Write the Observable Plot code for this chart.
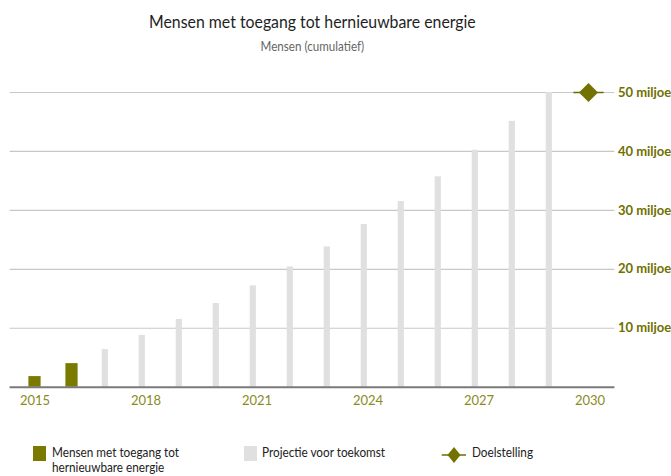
<!DOCTYPE html>
<html><head><meta charset="utf-8">
<script src="https://cdn.jsdelivr.net/npm/d3@7"></script>
<script src="https://cdn.jsdelivr.net/npm/@observablehq/plot@0.6"></script>
<style>
html,body{margin:0;padding:0;}
body{width:671px;height:476px;overflow:hidden;position:relative;background:#fff;font-family:Lato,"Liberation Sans",sans-serif;}
#title{position:absolute;left:9.6px;width:604.8px;top:11.5px;text-align:center;font-size:18px;line-height:18px;color:#1e1e1e;white-space:nowrap;transform:scaleX(0.88);transform-origin:50% 50%;}
#subtitle{position:absolute;left:9.6px;width:604.8px;top:40.6px;text-align:center;font-size:12.5px;line-height:12.5px;color:#666;white-space:nowrap;transform:scaleX(0.93);transform-origin:50% 50%;}
#chart{position:absolute;left:0;top:60px;}
.leg{position:absolute;font-size:12.5px;line-height:15.3px;color:#222;white-space:nowrap;transform:scaleX(0.94);transform-origin:0 50%;}
.sw{position:absolute;width:13px;height:15px;}
</style>
</head><body>
<div id="title">Mensen met toegang tot hernieuwbare energie</div>
<div id="subtitle">Mensen (cumulatief)</div>
<div id="chart"></div>
<div class="sw" style="left:33.3px;top:446px;background:#7a7a00"></div>
<div class="leg" style="left:51.7px;top:445.2px">Mensen met toegang tot<br>hernieuwbare energie</div>
<div class="sw" style="left:244px;top:446px;background:#e0e0e0"></div>
<div class="leg" style="left:262px;top:445.2px">Projectie voor toekomst</div>
<svg style="position:absolute;left:440px;top:444px" width="30" height="22">
  <line x1="1.7" x2="26" y1="11" y2="11" stroke="#6b6b00" stroke-width="1.5"></line>
  <path d="M14,3 L20.5,11 L14,19 L7.5,11 Z" fill="#727200"></path>
</svg>
<div class="leg" style="left:471.7px;top:445.2px">Doelstelling</div>
<script>
const years = [2015,2016,2017,2018,2019,2020,2021,2022,2023,2024,2025,2026,2027,2028,2029,2030];
const tickYears = [2015,2018,2021,2024,2027,2030];
const actualYears = [2015,2016];
const actualValues = [1.8,4.0]; // miljoen
const projYears = [2017,2018,2019,2020,2021,2022,2023,2024,2025,2026,2027,2028,2029];
const projValues = [6.4,8.8,11.5,14.2,17.2,20.4,23.8,27.6,31.5,35.7,40.2,45.1,50.0];
const goalYears = [2030];
const goalValues = [50];
const yTicks = [10,20,30,40,50];

const actual = actualYears.map((x,i)=>({x, y: actualValues[i]}));
const proj = projYears.map((x,i)=>({x, y: projValues[i]}));
const goal = goalYears.map((x,i)=>({x, y: goalValues[i]}));

const chart = Plot.plot({
  width: 671, height: 360,
  marginLeft: 9.6, marginRight: 56.6, marginTop: 32, marginBottom: 33.3,
  style: {fontFamily: 'Lato,"Liberation Sans",sans-serif', background: "transparent"},
  x: {type: "band", domain: years, padding: 0, axis: null, label: null},
  y: {domain: [0, 50], axis: null, label: null},
  marks: [
    Plot.gridY(yTicks, {stroke: "#c8c8c8", strokeOpacity: 1, strokeWidth: 1.2}),
    Plot.barY(actual, {x: "x", y: "y", fill: "#7a7a00", insetLeft: 12.4, insetRight: 12.4}),
    Plot.barY(proj, {x: "x", y: "y", fill: "#e0e0e0", insetLeft: 11.7, insetRight: 19.1}),
    Plot.ruleY([0], {stroke: "#7a7a7a", strokeWidth: 2}),
    Plot.tickY(goal, {x: "x", y: "y", stroke: "#6b6b00", strokeWidth: 1.5, insetLeft: 2.4, insetRight: 4.4}),
    Plot.dot(goal, {x: "x", y: "y", symbol: "diamond2", r: 8.6, fill: "#727200", stroke: null, dx: -1.5}),
    Plot.axisX(tickYears, {label: null, tickSize: 0, tickPadding: 9, fill: "#8a8a1e", fontSize: 13, tickFormat: d => String(d)}),
    Plot.axisY(yTicks, {label: null, anchor: "right", tickSize: 0, tickPadding: 3, fontSize: 13, fontWeight: "bold", fill: "#6f7000", tickFormat: d => `${d} miljoen`})
  ]
});
document.getElementById("chart").appendChild(chart);
</script>
</body></html>
